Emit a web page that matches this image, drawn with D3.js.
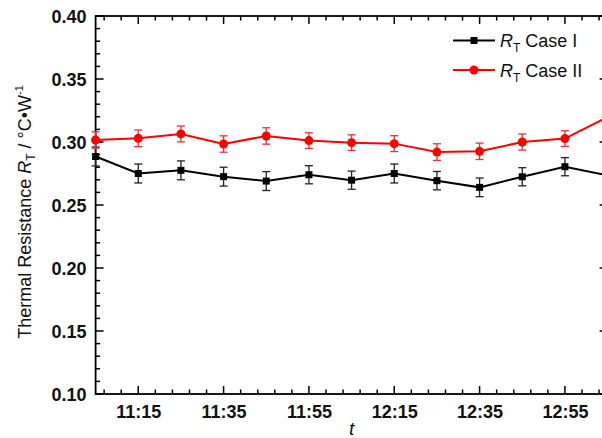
<!DOCTYPE html>
<html>
<head>
<meta charset="utf-8">
<script src="https://cdn.jsdelivr.net/npm/d3@7"></script>
<style>
  html, body { margin: 0; padding: 0; background: #fff; }
  svg { display: block; font-family: "Liberation Sans", Arial, sans-serif; }
</style>
</head>
<body>
<svg id="chart" width="602" height="438"></svg>
<script>
// Sampling times (every 10 minutes)
const times = ["11:05","11:15","11:25","11:35","11:45","11:55","12:05","12:15","12:25","12:35","12:45","12:55","13:05"];
// Thermal resistance, case I (°C/W)
const caseI = [0.2885, 0.2750, 0.2775, 0.2725, 0.2690, 0.2740, 0.2697, 0.2750, 0.2693, 0.2640, 0.2724, 0.2804, 0.2735];
const caseIErr = [0.0075, 0.0075, 0.0075, 0.0075, 0.0075, 0.0072, 0.0072, 0.0075, 0.0073, 0.0074, 0.0072, 0.0072, 0.0072];
// Thermal resistance, case II (°C/W)
const caseII = [0.3016, 0.3029, 0.3064, 0.2984, 0.3048, 0.3011, 0.2995, 0.2987, 0.2920, 0.2926, 0.3000, 0.3027, 0.3197];
const caseIIErr = [0.0065, 0.0066, 0.0063, 0.0065, 0.0065, 0.0062, 0.0062, 0.0063, 0.0066, 0.0065, 0.0064, 0.0062, 0.0065];
// Axis ticks
const xTickLabels = ["11:15","11:35","11:55","12:15","12:35","12:55"];
const yTicks = [0.10, 0.15, 0.20, 0.25, 0.30, 0.35, 0.40];
const seriesNames = ["Case I", "Case II"];

const parse = s => { const [h, m] = s.split(":").map(Number); return new Date(2000, 0, 1, h, m); };

const svg = d3.select("#chart");
const L = 95.6, R = 607.6, T = 16, B = 394;

const x = d3.scaleTime().domain([parse("11:05"), parse("13:05")]).range([L, R]);
const y = d3.scaleLinear().domain([0.10, 0.40]).range([B, T]);

// minor ticks every 4 minutes, major every 20 minutes
const xMinor = d3.range(-2, 29).map(i => new Date(parse("11:15").getTime() + i * 4 * 60000))
  .filter(d => d >= x.domain()[0] && d <= x.domain()[1]);
const xMajor = xTickLabels.map(parse);
const yMinor = d3.range(10, 41).map(v => v / 100);

const g = svg.append("g");

// frame ticks (all pointing inward)
function hTicks(yPos, dir) {
  g.append("g").selectAll("line").data(xMinor).join("line")
    .attr("x1", d => x(d)).attr("x2", d => x(d))
    .attr("y1", yPos).attr("y2", d => yPos + dir * (xMajor.some(m => +m === +d) ? 8 : 4.5))
    .attr("stroke", "#000").attr("stroke-width", 1.5);
}
function vTicks(xPos, dir) {
  g.append("g").selectAll("line").data(yMinor).join("line")
    .attr("y1", d => y(d)).attr("y2", d => y(d))
    .attr("x1", xPos).attr("x2", d => xPos + dir * (Math.round(d * 100) % 5 === 0 ? 8 : 4.5))
    .attr("stroke", "#000").attr("stroke-width", 1.5);
}
hTicks(B, -1); hTicks(T, 1); vTicks(L, 1); vTicks(R, -1);

g.append("rect").attr("x", L).attr("y", T).attr("width", R - L).attr("height", B - T)
  .attr("fill", "none").attr("stroke", "#000").attr("stroke-width", 1.8);

// tick labels
const xAxis = d3.axisBottom(x).tickValues(xMajor).tickFormat(d3.timeFormat("%H:%M")).tickSize(0).tickPadding(0);
const xa = svg.append("g").attr("transform", `translate(0,${B})`).call(xAxis);
xa.select(".domain").remove();
xa.selectAll("text").attr("dy", 0).attr("y", 24).attr("font-size", 18).attr("font-weight", "bold")
  .attr("font-family", "Liberation Sans, Arial, sans-serif").attr("fill", "#111");

const yAxis = d3.axisLeft(y).tickValues(yTicks).tickFormat(d3.format(".2f")).tickSize(0).tickPadding(0);
const ya = svg.append("g").attr("transform", `translate(${L},0)`).call(yAxis);
ya.select(".domain").remove();
ya.selectAll("text").attr("x", -9).attr("dy", "0.36em").attr("font-size", 18).attr("font-weight", "bold")
  .attr("font-family", "Liberation Sans, Arial, sans-serif").attr("fill", "#111");

// axis titles
svg.append("text").attr("x", (L + R) / 2).attr("y", 435).attr("text-anchor", "middle")
  .attr("font-size", 19).attr("font-style", "italic").attr("fill", "#111").text("t");

const yt = svg.append("text").attr("transform", `translate(31,${212}) rotate(-90)`)
  .attr("text-anchor", "middle").attr("font-size", 18).attr("fill", "#111");
yt.append("tspan").text("Thermal Resistance ");
yt.append("tspan").attr("font-style", "italic").text("R");
yt.append("tspan").attr("font-size", 12).attr("dy", 4).text("T");
yt.append("tspan").attr("dy", -4).text(" / °C•W");
yt.append("tspan").attr("font-size", 11).attr("dy", -8).text("-1");

// series
const series = [
  { vals: caseI, err: caseIErr, color: "#000", errColor: "#222", shape: "square" },
  { vals: caseII, err: caseIIErr, color: "#ff0000", errColor: "#ee3030", shape: "circle" }
];
const line = d3.line().x(d => x(d.t)).y(d => y(d.v));

series.forEach(s => {
  const pts = times.map((t, i) => ({ t: parse(t), v: s.vals[i], e: s.err[i] }));
  const sg = svg.append("g");
  sg.append("path").datum(pts).attr("d", line).attr("fill", "none")
    .attr("stroke", s.color).attr("stroke-width", 2);
  const eb = sg.append("g").selectAll("g").data(pts).join("g");
  eb.append("line").attr("x1", d => x(d.t)).attr("x2", d => x(d.t))
    .attr("y1", d => y(d.v - d.e)).attr("y2", d => y(d.v + d.e))
    .attr("stroke", s.errColor).attr("stroke-width", 1.3);
  [-1, 1].forEach(sgn => {
    eb.append("line").attr("x1", d => x(d.t) - 4).attr("x2", d => x(d.t) + 4)
      .attr("y1", d => y(d.v + sgn * d.e)).attr("y2", d => y(d.v + sgn * d.e))
      .attr("stroke", s.errColor).attr("stroke-width", 1.3);
  });
  if (s.shape === "square") {
    sg.append("g").selectAll("rect").data(pts).join("rect")
      .attr("x", d => x(d.t) - 3.5).attr("y", d => y(d.v) - 3.5)
      .attr("width", 7).attr("height", 7).attr("fill", s.color);
  } else {
    sg.append("g").selectAll("circle").data(pts).join("circle")
      .attr("cx", d => x(d.t)).attr("cy", d => y(d.v)).attr("r", 4.5).attr("fill", s.color);
  }
});

// legend
const lg = svg.append("g");
series.forEach((s, i) => {
  const ly = 40.5 + i * 29.5;
  lg.append("line").attr("x1", 453).attr("x2", 495).attr("y1", ly).attr("y2", ly)
    .attr("stroke", s.color).attr("stroke-width", 2);
  if (s.shape === "square") {
    lg.append("rect").attr("x", 474 - 3.5).attr("y", ly - 3.5).attr("width", 7).attr("height", 7).attr("fill", s.color);
  } else {
    lg.append("circle").attr("cx", 474).attr("cy", ly).attr("r", 4.5).attr("fill", s.color);
  }
  const t = lg.append("text").attr("x", 500).attr("y", ly + 6.5).attr("font-size", 18).attr("fill", "#111");
  t.append("tspan").attr("font-style", "italic").text("R");
  t.append("tspan").attr("font-size", 12).attr("dy", 5).text("T");
  t.append("tspan").attr("dy", -5).text(" " + seriesNames[i]);
});
</script>
</body>
</html>
